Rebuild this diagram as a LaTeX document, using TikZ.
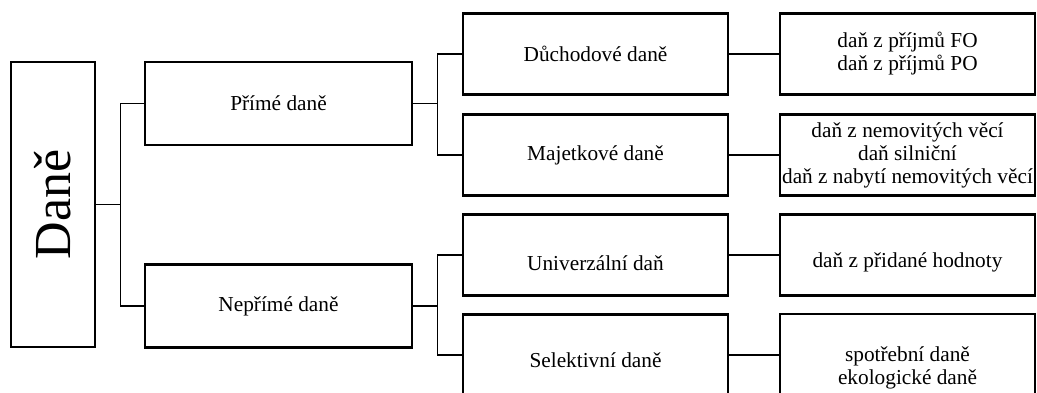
\documentclass[tikz,border=0pt]{standalone}
\usepackage{fontspec}
\setmainfont{Liberation Serif}
\usepackage{graphicx}

\begin{document}
\begin{tikzpicture}[x=0.5pt, y=-0.5pt,
	every node/.style={font=\fontsize{10.65}{11.5}\selectfont},
	box/.style={draw, line width=1.15pt, align=center, inner xsep=0pt},
	lvlone/.style={box, minimum width=133.5pt, minimum height=41.5pt},
	lvltwo/.style={box, minimum width=132.5pt, minimum height=40.5pt},
	lvlthree/.style={box, minimum width=127.5pt, minimum height=40.5pt},
	sink/.style={text height=#1},
	link/.style={line width=0.6pt}]
	\useasboundingbox (0,0) rectangle (1037,392);
	% root
	\node[box, minimum width=42pt, minimum height=142.5pt, font=\fontsize{26}{30}\selectfont] (dane) at (53,204.5) {\rotatebox{90}{Daně}};
	% first level
	\node[lvlone] (prime) at (278.5,103.5) {Přímé daně};
	\node[lvlone] (neprime) at (278.5,306) {Nepřímé daně};
	% second level
	\node[lvltwo] (duch) at (595.5,54) {Důchodové daně};
	\node[lvltwo] (majet) at (595.5,155) {Majetkové daně};
	\node[lvltwo, sink=15.3pt] (univ) at (595.5,255) {Univerzální daň};
	\node[lvltwo, sink=12.3pt] (selekt) at (595.5,355) {Selektivní daně};
	% third level
	\node[lvlthree] (prijmy) at (907.5,54) {daň z příjmů FO\\daň z příjmů PO};
	\node[lvlthree] (nemov) at (907.5,155) {daň z nemovitých věcí\\daň silniční\\daň z nabytí nemovitých věcí};
	\node[lvlthree, sink=14.3pt] (dph) at (907.5,255) {daň z přidané hodnoty};
	\node[lvlthree, sink=32pt] (spotreb) at (907.5,355) {spotřební daně\\ekologické daně};
	% connectors
	\draw[link] (dane.east) -- ++(12pt,0) |- (prime.west);
	\draw[link] (dane.east) -- ++(12pt,0) |- (neprime.west);
	\draw[link] (prime.east) -- ++(12pt,0) |- (duch.west);
	\draw[link] (prime.east) -- ++(12pt,0) |- (majet.west);
	\draw[link] (neprime.east) -- ++(12pt,0) |- (univ.west);
	\draw[link] (neprime.east) -- ++(12pt,0) |- (selekt.west);
	\draw[link] (duch) -- (prijmy);
	\draw[link] (majet) -- (nemov);
	\draw[link] (univ) -- (dph);
	\draw[link] (selekt) -- (spotreb);
\end{tikzpicture}
\end{document}
